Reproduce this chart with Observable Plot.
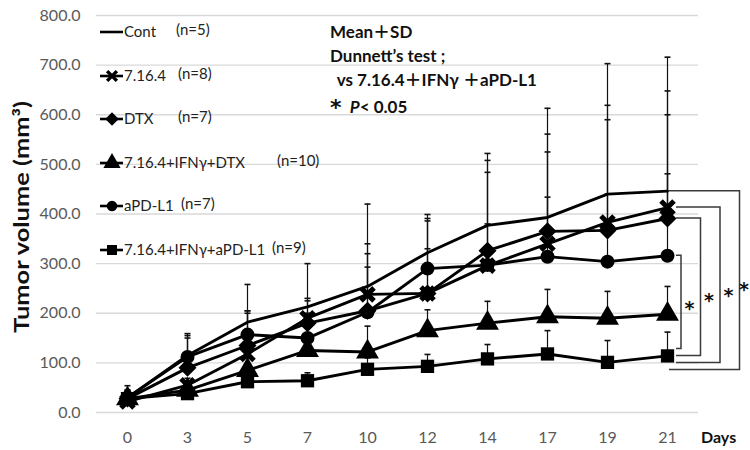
<!DOCTYPE html>
<html><head><meta charset="utf-8">
<script src="https://cdn.jsdelivr.net/npm/d3@7"></script>
<script src="https://cdn.jsdelivr.net/npm/@observablehq/plot@0.6"></script>
<style>
body{margin:0;background:#fff;}
#wrap{position:relative;width:750px;height:450px;font-family:Lato,"Noto Sans CJK JP",sans-serif;overflow:hidden;}
#wrap svg.main{position:absolute;left:0;top:0;}
.abs{position:absolute;white-space:nowrap;line-height:1;}
.ann{font-weight:bold;font-size:17px;color:#111;}
.leg{font-size:15px;color:#222;}
</style></head><body><div id="wrap"></div>
<script>
// ---- data ----
const days = ["0","3","5","7","10","12","14","17","19","21"];
const groups = ["Cont","7.16.4","DTX","7.16.4+IFNγ+DTX","aPD-L1","7.16.4+IFNγ+aPD-L1"];
const nLabels = ["(n=5)","(n=8)","(n=7)","(n=10)","(n=7)","(n=9)"];
const meanCont   = [30, 115, 182, 213, 254, 322, 377, 393, 440, 446];
const sdCont     = [24, 44, 76, 87, 166, 77, 145, 220, 263, 270];
const mean7164   = [22, 55, 118, 190, 238, 240, 296, 340, 383, 413];
const sd7164     = [18, 14, 87, 40, 102, 151, 212, 221, 236, 235];
const meanDTX    = [28, 90, 135, 180, 205, 240, 326, 365, 367, 391];
const sdDTX      = [17, 60, 65, 45, 115, 146, 158, 160, 223, 209];
const meanIfnDTX = [28, 45, 85, 125, 122, 165, 180, 193, 190, 198];
const sdIfnDTX   = [12, 15, 25, 25, 52, 42, 44, 55, 54, 56];
const meanPDL1   = [30, 112, 157, 150, 202, 290, 297, 314, 304, 316];
const sdPDL1     = [15, 43, 48, 50, 91, 40, 83, 120, 136, 165];
const meanIfnPD  = [28, 38, 62, 64, 87, 93, 108, 118, 101, 114];
const sdIfnPD    = [7, 10, 13, 16, 23, 24, 29, 47, 44, 48];
const yTicks = [0, 100, 200, 300, 400, 500, 600, 700, 800];
const compared = ["aPD-L1", "DTX", "7.16.4", "Cont"]; // vs 7.16.4+IFNγ+aPD-L1, P<0.05

const means = [meanCont, mean7164, meanDTX, meanIfnDTX, meanPDL1, meanIfnPD];
const sds = [sdCont, sd7164, sdDTX, sdIfnDTX, sdPDL1, sdIfnPD];
const rows = [];
groups.forEach((g, gi) => days.forEach((d, i) => rows.push({group: g, day: d, mean: means[gi][i], top: means[gi][i] + sds[gi][i]})));
const meanOf = Object.fromEntries(groups.map((g, gi) => [g, means[gi]]));

// ---- symbols ----
const symDiamond = {draw(c, s){const r = Math.sqrt(s/Math.PI)*1.2; c.moveTo(0,-r); c.lineTo(r,0); c.lineTo(0,r); c.lineTo(-r,0); c.closePath();}};
const symTimes = {draw(c, s){const r = Math.sqrt(s/Math.PI); c.moveTo(-r,-r); c.lineTo(r,r); c.moveTo(r,-r); c.lineTo(-r,r);}};
const symCap = {draw(c, s){const r = Math.sqrt(s/Math.PI); c.moveTo(-r,0); c.lineTo(r,0);}};
const styles = {
  "Cont": null,
  "7.16.4": {symbol: symTimes, r: 6.5, fill: "none", stroke: "#000", strokeWidth: 5},
  "DTX": {symbol: symDiamond, r: 7.5, fill: "#000"},
  "7.16.4+IFNγ+DTX": {symbol: "triangle", r: 8.5, fill: "#000"},
  "aPD-L1": {symbol: "circle", r: 7, fill: "#000"},
  "7.16.4+IFNγ+aPD-L1": {symbol: "square", r: 7.5, fill: "#000"}
};

const last = days.length - 1;
const starDy = [13, 20, 17, 16];
function bracketMark(index, scales) {
  const X = scales.x, Y = scales.y;
  const x21 = X(days[last]);
  const yBase = Y(meanIfnPD[last]);
  const g = d3.create("svg:g");
  compared.forEach((name, k) => {
    const yt = Y(meanOf[name][last]);
    const xv = x21 + 14 + 19.5 * k;
    const yb = yBase - 7 + 7 * k;
    const xs = x21 + (k === 3 ? 2 : 9);
    g.append("path").attr("d", `M${xs},${yt}H${xv}V${yb}H${xs}`)
      .attr("fill", "none").attr("stroke", "#3a3a3a").attr("stroke-width", 1.5);
    g.append("text").attr("x", Math.min(xv + 8.5, 744)).attr("y", (yt + yb) / 2 + starDy[k])
      .attr("text-anchor", "middle").attr("font-size", 19).attr("font-weight", "bold")
      .attr("font-family", "DejaVu Sans, sans-serif")
      .attr("fill", "#111").text("*");
  });
  return g.node();
}

const marks = [
  Plot.ruleY(yTicks, {stroke: "#d9d9d9", strokeWidth: 1.3}),
  Plot.ruleX(rows, {x: "day", y1: "mean", y2: "top", stroke: "#111", strokeWidth: 1.2}),
  Plot.dot(rows, {x: "day", y: "top", symbol: symCap, r: 3, fill: "none", stroke: "#111", strokeWidth: 1.6}),
  Plot.line(rows, {x: "day", y: "mean", z: "group", stroke: "#000", strokeWidth: 2.9})
];
groups.forEach(g => {
  const st = styles[g];
  if (!st) return;
  marks.push(Plot.dot(rows.filter(r => r.group === g), {x: "day", y: "mean", ...st}));
});
marks.push(bracketMark);

const chart = Plot.plot({
  width: 750, height: 450,
  marginLeft: 96, marginRight: 52, marginTop: 15, marginBottom: 38,
  style: {fontFamily: "Lato, sans-serif", fontSize: "16px", color: "#595959", background: "transparent", overflow: "visible"},
  x: {type: "point", domain: days, padding: 0.5, tickSize: 0, tickPadding: 19, label: null},
  y: {domain: [0, 800], ticks: yTicks, tickFormat: d => d.toFixed(1), tickSize: 0, tickPadding: 16, label: null},
  marks
});
chart.classList.add("main");
const wrap = document.getElementById("wrap");
wrap.appendChild(chart);

// ---- y label (svg text), x label ----
d3.select(chart).append("text")
  .attr("transform", "translate(29,217) rotate(-90)")
  .attr("text-anchor", "middle")
  .attr("font-family", "Lato, sans-serif").attr("font-weight", "bold").attr("font-size", 21)
  .attr("fill", "#111")
  .attr("textLength", 232).attr("lengthAdjust", "spacingAndGlyphs")
  .text("Tumor volume (mm³)");
const xl = document.createElement("div");
xl.className = "abs";
xl.style.cssText = "left:701px;top:429px;font-weight:bold;font-size:16px;color:#111;";
xl.textContent = "Days";
wrap.appendChild(xl);

// ---- annotation ----
const annLines = ["Mean＋SD", "Dunnett’s test ;", " vs 7.16.4＋IFNγ ＋aPD-L1"];
annLines.forEach((t, i) => {
  const d = document.createElement("div");
  d.className = "abs ann";
  d.style.left = (i === 2 ? 333 : 330) + "px";
  d.style.top = (23 + i * 24) + "px";
  d.style.whiteSpace = "pre";
  d.textContent = t;
  wrap.appendChild(d);
});
const pl = document.createElement("div");
pl.className = "abs ann";
pl.style.left = "330px"; pl.style.top = "95px";
pl.innerHTML = "<span style=\"font-family:'DejaVu Sans';font-size:22px;position:relative;top:2px\">*</span>&nbsp;&nbsp;<i>P</i>&lt; 0.05";
wrap.appendChild(pl);

// ---- legend ----
const nX = [176, 178, 178, 277, 181, 272];
groups.forEach((g, i) => {
  const cy = 32 + i * 43.6;
  const s = d3.create("svg").attr("width", 30).attr("height", 20)
    .style("position", "absolute").style("left", "97px").style("top", (cy - 10) + "px");
  s.append("line").attr("x1", 3).attr("x2", 26).attr("y1", 10).attr("y2", 10).attr("stroke", "#000").attr("stroke-width", 2.6);
  const st = styles[g];
  if (st) {
    const sym = typeof st.symbol === "string" ? (st.symbol === "circle" ? d3.symbolCircle : st.symbol === "square" ? d3.symbolSquare : d3.symbolTriangle) : st.symbol;
    const rr = st.r * 0.75;
    s.append("path").attr("transform", "translate(15,10)")
      .attr("d", d3.symbol(sym, Math.PI * rr * rr)())
      .attr("fill", st.fill).attr("stroke", st.stroke || "none").attr("stroke-width", st.strokeWidth ? 3.5 : 0);
  }
  wrap.appendChild(s.node());
  const t = document.createElement("div");
  t.className = "abs leg";
  t.style.left = "124px"; t.style.top = (cy - 8) + "px";
  t.textContent = g;
  wrap.appendChild(t);
  const n = document.createElement("div");
  n.className = "abs leg";
  n.style.left = nX[i] + "px"; n.style.top = (cy - 10) + "px";
  n.textContent = nLabels[i];
  wrap.appendChild(n);
});
</script></body></html>
